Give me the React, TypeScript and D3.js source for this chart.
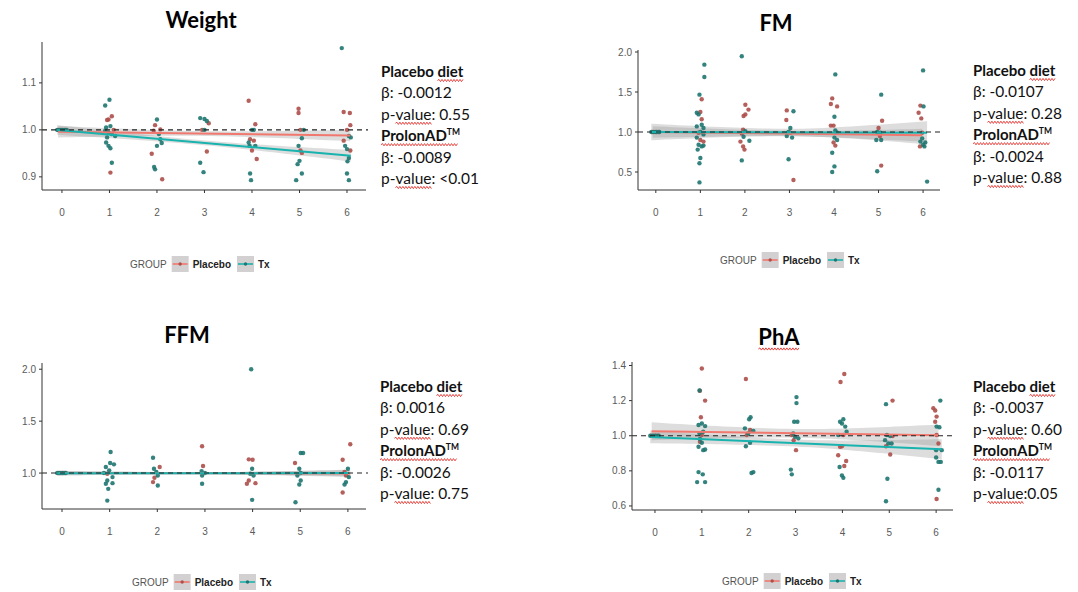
import React from 'react';
import * as d3 from 'd3';

// time points (months) and groups
const times = [0, 1, 2, 3, 4, 5, 6];
const groups = ['Placebo', 'Tx'];

// [time (jittered), value relative to baseline]
const weightPlacebo = [
  [-0.08, 1], [-0.02, 1], [0.02, 1], [0.08, 1],
  [0.98, 1.022], [1.05, 1.029], [0.95, 1.021], [1.02, 0.909], [1.09, 1.0],
  [1.96, 1.01], [1.93, 0.998], [1.89, 0.949], [2.11, 0.895], [2.07, 1.001],
  [3.09, 1.014], [2.95, 1.0], [3.05, 0.954],
  [3.93, 1.062], [4.07, 1.012], [3.96, 0.98], [4.04, 0.977], [4.0, 0.956], [4.1, 0.938],
  [4.98, 1.045], [4.98, 1.036], [5.02, 1.0], [5.02, 0.956], [5.05, 0.951],
  [5.93, 1.038], [6.06, 1.036], [6.07, 1.01], [6.0, 1.0], [5.93, 0.977], [6.07, 0.956],
];
const weightTx = [
  [-0.1, 1], [-0.05, 1], [0, 1], [0.05, 1], [0.1, 1],
  [0.91, 1.052], [1.0, 1.064], [1.02, 1.008], [0.93, 1.005], [0.91, 0.998], [0.98, 0.994],
  [1.05, 0.991], [1.12, 0.987], [0.95, 0.984], [0.93, 0.973], [0.98, 0.966], [1.02, 0.961], [1.05, 0.93],
  [2.0, 1.022], [2.04, 0.991], [2.07, 0.98], [2.1, 0.972], [2.0, 0.966], [1.94, 0.921], [1.96, 0.916],
  [2.91, 1.025], [3.0, 1.023], [3.05, 1.019], [3.0, 1.0], [2.91, 0.93], [2.98, 0.91],
  [4.0, 1.0], [4.04, 1.0], [3.95, 0.966], [4.07, 0.966], [3.96, 0.907], [3.98, 0.893], [3.93, 0.973],
  [5.09, 1.0], [5.05, 0.982], [4.98, 0.966], [5.0, 0.934], [4.96, 0.927], [5.05, 0.907], [4.93, 0.893],
  [5.89, 1.174], [6.04, 0.987], [6.08, 0.984], [5.96, 0.966], [6.0, 0.959], [6.04, 0.94], [6.01, 0.933],
  [6.0, 0.907], [6.04, 0.893],
];

const fmPlacebo = [
  [-0.07, 1], [0.0, 1], [0.06, 1],
  [1.03, 1.41], [1.0, 1.25], [1.03, 1.16], [0.96, 0.99], [1.0, 0.9], [1.07, 0.88],
  [2.01, 1.34], [2.08, 1.28], [1.97, 1.2], [2.01, 1.22], [1.96, 1.03], [1.93, 0.98], [1.9, 0.88],
  [1.96, 0.82], [1.99, 0.78],
  [2.94, 1.27], [2.93, 1.15], [3.09, 0.4], [3.02, 0.99],
  [3.96, 1.42], [4.07, 1.32], [3.93, 1.35], [3.93, 1.08], [3.99, 1.08], [3.99, 0.87], [4.03, 0.83],
  [5.08, 1.14], [5.0, 1.05], [5.06, 0.58], [5.03, 0.95],
  [5.94, 1.33], [5.9, 1.24], [5.96, 1.17], [5.98, 0.99], [5.93, 0.82],
];
const fmTx = [
  [-0.1, 1], [-0.04, 1], [0.02, 1], [0.08, 1],
  [1.09, 1.842], [1.09, 1.688], [0.98, 1.467], [0.92, 1.24], [0.96, 1.22], [0.92, 1.07], [1.03, 1.09],
  [1.07, 1.05], [1.0, 1.0], [1.07, 0.97], [0.92, 0.93], [0.96, 0.84], [1.03, 0.82], [1.07, 0.83],
  [0.94, 0.78], [1.0, 0.675], [0.98, 0.61], [0.98, 0.37],
  [1.93, 1.946], [2.01, 1.01], [1.93, 0.645], [2.1, 0.89], [1.97, 0.94],
  [3.09, 1.26], [3.02, 1.05], [2.98, 1.0], [2.94, 0.95], [3.06, 0.93], [2.98, 0.66],
  [4.03, 1.72], [4.01, 1.19], [4.03, 1.02], [4.07, 0.99], [4.01, 0.93], [3.96, 0.74], [4.01, 0.57],
  [3.96, 0.5], [4.07, 0.9],
  [5.06, 1.467], [4.97, 1.0], [5.04, 0.99], [4.95, 0.9], [5.06, 0.9], [4.97, 0.51],
  [6.0, 1.77], [6.01, 1.32], [5.98, 0.92], [6.05, 0.87], [5.94, 0.88], [6.0, 0.84], [6.03, 0.82], [6.09, 0.38],
];

const ffmPlacebo = [
  [-0.07, 1], [0.0, 1], [0.06, 1],
  [0.95, 0.994],
  [2.05, 1.058], [1.91, 0.913], [1.94, 0.955],
  [2.94, 1.258], [2.96, 1.068],
  [3.92, 1.132], [4.0, 1.129], [3.92, 0.929], [4.06, 0.903], [3.88, 0.897],
  [4.89, 1.097],
  [6.05, 1.277], [5.89, 1.129], [5.93, 1.01], [5.96, 0.977], [5.89, 0.813],
];
const ffmTx = [
  [-0.1, 1], [-0.04, 1], [0.02, 1], [0.08, 1],
  [1.02, 1.203], [1.01, 1.097], [1.09, 1.084], [0.92, 1.058], [0.99, 1.026], [0.88, 1.0], [1.06, 0.961],
  [0.95, 0.929], [0.92, 0.897], [0.97, 0.848], [0.95, 0.735], [1.06, 0.903],
  [1.91, 1.148], [1.93, 1.042], [1.98, 1.01], [2.01, 0.977], [2.01, 0.881],
  [2.93, 1.019], [3.0, 1.0], [2.94, 0.977], [2.94, 0.897],
  [3.97, 2.0], [3.99, 1.042], [3.95, 0.994], [4.02, 0.977], [3.99, 0.742],
  [5.01, 1.194], [5.06, 1.194], [4.98, 1.042], [5.01, 1.0], [4.94, 0.977], [5.01, 0.929], [4.98, 0.89], [4.9, 0.719],
  [6.0, 1.042], [6.02, 0.961], [5.96, 0.913], [5.93, 0.89],
];

const phaPlacebo = [
  [-0.07, 1], [0.0, 1], [0.06, 1],
  [1.0, 1.383], [0.96, 1.256], [1.07, 1.2], [0.98, 1.105], [1.0, 1.004], [0.96, 0.966],
  [1.94, 1.323], [2.03, 1.033], [1.96, 1.004],
  [2.92, 1.004], [3.01, 0.918], [2.96, 0.975],
  [4.04, 1.352], [3.96, 1.306], [4.02, 1.004], [3.95, 0.937], [3.99, 0.94], [3.91, 0.889], [4.08, 0.856], [4.04, 0.828],
  [5.07, 1.2], [4.93, 0.94], [5.02, 0.893], [5.07, 0.998],
  [5.94, 1.157], [5.98, 1.144], [6.01, 1.109], [5.98, 1.08], [6.01, 1.004], [6.05, 0.956], [6.01, 0.64],
];
const phaTx = [
  [-0.1, 1], [-0.04, 1], [0.02, 1], [0.08, 1],
  [0.95, 1.258], [0.93, 1.061], [1.0, 1.07], [1.07, 1.055], [0.95, 1.013], [1.03, 1.023], [0.96, 0.981],
  [0.93, 0.937], [1.03, 0.918], [1.07, 0.922], [0.93, 0.793], [1.02, 0.78], [0.9, 0.736], [1.07, 0.736], [1.0, 0.96],
  [2.04, 1.105], [2.01, 1.094], [1.92, 1.042], [2.1, 1.027], [1.99, 1.013], [2.03, 0.96], [1.94, 0.94],
  [2.06, 0.788], [2.1, 0.793],
  [3.02, 1.22], [3.02, 1.186], [2.97, 1.08], [3.04, 1.08], [2.95, 1.013], [2.99, 0.994], [3.06, 0.985],
  [2.9, 0.807], [2.92, 0.78],
  [4.02, 1.094], [3.95, 1.08], [3.99, 1.07], [4.06, 1.052], [4.09, 1.023], [3.94, 0.822], [3.99, 0.774],
  [4.02, 0.76], [3.91, 1.004],
  [4.93, 1.18], [4.95, 1.004], [5.02, 0.998], [4.91, 0.975], [4.98, 0.956], [5.05, 0.956], [4.96, 0.755], [4.93, 0.627],
  [6.09, 1.2], [6.01, 1.052], [6.07, 1.048], [6.0, 0.918], [6.12, 0.918], [6.0, 0.876], [6.05, 0.851],
  [6.1, 0.851], [6.05, 0.692],
];

// fitted lines as drawn: [intercept, slope]; band half-width at t=0, t=3, t=6
const weightFitPlacebo = [0.996, -0.0013];
const weightFitTx = [0.999, -0.0089];
const weightBandPlacebo = [0.012, 0.005, 0.012];
const weightBandTx = [0.01, 0.005, 0.012];

const fmFitPlacebo = [1.0, -0.0067];
const fmFitTx = [1.0, -0.0015];
const fmBandPlacebo = [0.07, 0.035, 0.08];
const fmBandTx = [0.1, 0.045, 0.14];

const ffmFitPlacebo = [1.0, -0.0005];
const ffmFitTx = [0.998, 0.0003];
const ffmBandPlacebo = [0.022, 0.01, 0.035];
const ffmBandTx = [0.02, 0.01, 0.03];

const phaFitPlacebo = [1.025, -0.0037];
const phaFitTx = [0.992, -0.0112];
const phaBandPlacebo = [0.05, 0.025, 0.06];
const phaBandTx = [0.035, 0.02, 0.055];

// regression text
const weightStats = ['β: -0.0012', 'p-value: 0.55', 'β: -0.0089', 'p-value: <0.01'];
const fmStats = ['β: -0.0107', 'p-value: 0.28', 'β: -0.0024', 'p-value: 0.88'];
const ffmStats = ['β: 0.0016', 'p-value: 0.69', 'β: -0.0026', 'p-value: 0.75'];
const phaStats = ['β: -0.0037', 'p-value: 0.60', 'β: -0.0117', 'p-value:0.05'];

const weightTicks = [0.9, 1.0, 1.1];
const fmTicks = [0.5, 1.0, 1.5, 2.0];
const ffmTicks = [1.0, 1.5, 2.0];
const phaTicks = [0.6, 0.8, 1.0, 1.2, 1.4];

const lineColor = { Placebo: '#f0786f', Tx: '#18b3ae' };
const dotColor = { Placebo: '#ad4f4a', Tx: '#1e7670' };

const panels = [
  {
    title: 'Weight', titleX: 201, titleY: 28, squiggleTitle: false,
    xRange: [42, 366], xDomain: [-0.42, 6.4], yRange: [190, 42], yDomain: [0.872, 1.187], ticks: weightTicks,
    data: { Placebo: weightPlacebo, Tx: weightTx },
    fit: { Placebo: weightFitPlacebo, Tx: weightFitTx },
    band: { Placebo: weightBandPlacebo, Tx: weightBandTx },
    stats: weightStats, textX: 381, textY: 77, legendX: 130, legendY: 264,
  },
  {
    title: 'FM', titleX: 776, titleY: 31, squiggleTitle: false,
    xRange: [638, 940], xDomain: [-0.4, 6.38], yRange: [190, 50], yDomain: [0.275, 2.025], ticks: fmTicks,
    data: { Placebo: fmPlacebo, Tx: fmTx },
    fit: { Placebo: fmFitPlacebo, Tx: fmFitTx },
    band: { Placebo: fmBandPlacebo, Tx: fmBandTx },
    stats: fmStats, textX: 973, textY: 76, legendX: 720, legendY: 260,
  },
  {
    title: 'FFM', titleX: 187, titleY: 343, squiggleTitle: false,
    xRange: [42, 366], xDomain: [-0.42, 6.38], yRange: [509, 363], yDomain: [0.654, 2.06], ticks: ffmTicks,
    data: { Placebo: ffmPlacebo, Tx: ffmTx },
    fit: { Placebo: ffmFitPlacebo, Tx: ffmFitTx },
    band: { Placebo: ffmBandPlacebo, Tx: ffmBandTx },
    stats: ffmStats, textX: 380, textY: 392, legendX: 132, legendY: 582,
  },
  {
    title: 'PhA', titleX: 779, titleY: 345, squiggleTitle: true,
    xRange: [632, 953], xDomain: [-0.49, 6.36], yRange: [510, 362], yDomain: [0.577, 1.42], ticks: phaTicks,
    data: { Placebo: phaPlacebo, Tx: phaTx },
    fit: { Placebo: phaFitPlacebo, Tx: phaFitTx },
    band: { Placebo: phaBandPlacebo, Tx: phaBandTx },
    stats: phaStats, textX: 973, textY: 392, legendX: 722, legendY: 581,
  },
];

const noteFont = 'Lato, "Open Sans", sans-serif';
const axisFont = '"Liberation Sans", Arial, sans-serif';

let ctx: CanvasRenderingContext2D | null = null;
function textWidth(s: string, font: string) {
  if (!ctx) ctx = document.createElement('canvas').getContext('2d');
  if (!ctx) return s.length * 7;
  ctx.font = font;
  return ctx.measureText(s).width;
}

// spell-check style zigzag
function wave(x: number, y: number, w: number) {
  let d = `M${x},${y}`;
  let up = true;
  for (let i = 1.5; i <= w; i += 1.5) {
    d += ` L${(x + i).toFixed(1)},${(y + (up ? -1.1 : 1.1)).toFixed(1)}`;
    up = !up;
  }
  return d;
}

function Panel({ p }: { p: any }) {
  const x = d3.scaleLinear().domain(p.xDomain).range(p.xRange);
  const y = d3.scaleLinear().domain(p.yDomain).range(p.yRange);
  const axisY = p.yRange[0];
  const axisX = p.xRange[0];

  const halfWidth = (b: number[], t: number) => {
    const e = t < 3 ? b[0] : b[2];
    const u = (t - 3) / 3;
    return Math.sqrt(b[1] * b[1] + (e * e - b[1] * b[1]) * u * u);
  };

  const lines = groups.map(g => {
    const ts = p.data[g].map((d: number[]) => d[0]);
    const t0 = d3.min(ts) as number, t1 = d3.max(ts) as number;
    const grid = d3.range(0, 41).map(i => t0 + (t1 - t0) * i / 40);
    const [a, b] = p.fit[g];
    const area = d3.area<number>()
      .x(t => x(t))
      .y0(t => y(a + b * t - halfWidth(p.band[g], t)))
      .y1(t => y(a + b * t + halfWidth(p.band[g], t)));
    const line = d3.line<number>().x(t => x(t)).y(t => y(a + b * t));
    return { g, area: area(grid), line: line([t0, t1]) };
  });

  const fsReg = 15.5;
  const fsBold = 15;
  const boldFont = `bold ${fsBold}px ${noteFont}`;
  const regFont = `${fsReg}px ${noteFont}`;
  const lh = 21.4;
  const textLines = [
    { s: 'Placebo diet', bold: true },
    { s: p.stats[0], bold: false },
    { s: p.stats[1], bold: false },
    { s: 'ProlonAD', bold: true, tm: true },
    { s: p.stats[2], bold: false },
    { s: p.stats[3], bold: false },
  ];

  const titleW = textWidth(p.title, `bold 22px ${noteFont}`);

  // legend layout
  const lgFont = `10px ${axisFont}`;
  const lgBold = `bold 10px ${axisFont}`;
  const groupW = textWidth('GROUP', lgFont);
  const key1 = p.legendX + groupW + 5;
  const lab1 = key1 + 17 + 4;
  const key2 = lab1 + textWidth('Placebo', lgBold) + 6;
  const lab2 = key2 + 17 + 4;

  return (
    <g>
      <text x={p.titleX} y={p.titleY} textAnchor="middle" fontFamily={noteFont} fontWeight="bold" fontSize={22} fill="#000">
        {p.title}
      </text>
      {p.squiggleTitle && (
        <path d={wave(p.titleX - titleW / 2, p.titleY + 4, titleW)} stroke="#e0302a" strokeWidth={0.9} fill="none" />
      )}

      {lines.map(l => (
        <path key={'a' + l.g} d={l.area || ''} fill="#8f8f8f" fillOpacity={0.3} />
      ))}

      {groups.map(g => (
        <g key={'p' + g}>
          {p.data[g].map((d: number[], i: number) => (
            <circle key={i} cx={x(d[0])} cy={y(d[1])} r={2.2} fill={dotColor[g as 'Placebo' | 'Tx']} fillOpacity={0.9} />
          ))}
        </g>
      ))}

      {lines.map(l => (
        <path key={'l' + l.g} d={l.line || ''} fill="none" stroke={lineColor[l.g as 'Placebo' | 'Tx']} strokeWidth={2} />
      ))}

      <line x1={axisX} x2={p.xRange[1] + 2} y1={y(1)} y2={y(1)} stroke="#222" strokeWidth={1.1} strokeDasharray="5,4" />

      {/* axes */}
      <line x1={axisX} x2={axisX} y1={p.yRange[1]} y2={axisY} stroke="#333" strokeWidth={1} />
      <line x1={axisX} x2={p.xRange[1]} y1={axisY} y2={axisY} stroke="#333" strokeWidth={1} />
      {p.ticks.map((t: number) => (
        <g key={'y' + t}>
          <line x1={axisX - 3} x2={axisX} y1={y(t)} y2={y(t)} stroke="#333" />
          <text x={axisX - 6} y={y(t) + 3.5} textAnchor="end" fontFamily={axisFont} fontSize={10} fill="#5a5a5a">
            {d3.format('.1f')(t)}
          </text>
        </g>
      ))}
      {times.map(t => (
        <g key={'x' + t}>
          <line x1={x(t)} x2={x(t)} y1={axisY} y2={axisY + 3} stroke="#333" />
          <text x={x(t)} y={axisY + 26} textAnchor="middle" fontFamily={axisFont} fontSize={10} fill="#5a5a5a">
            {t}
          </text>
        </g>
      ))}

      {/* legend */}
      <text x={p.legendX} y={p.legendY + 3.5} fontFamily={axisFont} fontSize={10} fill="#555">GROUP</text>
      {[['Placebo', key1, lab1], ['Tx', key2, lab2]].map(([g, kx, lx]) => (
        <g key={'k' + g}>
          <rect x={kx as number} y={p.legendY - 8} width={17} height={16} fill="#d3d0d2" />
          <line x1={(kx as number) + 1} x2={(kx as number) + 16} y1={p.legendY} y2={p.legendY}
            stroke={lineColor[g as 'Placebo' | 'Tx']} strokeWidth={1.6} />
          <circle cx={(kx as number) + 8.5} cy={p.legendY} r={1.7} fill={dotColor[g as 'Placebo' | 'Tx']} />
          <text x={lx as number} y={p.legendY + 3.5} fontFamily={axisFont} fontSize={10} fontWeight="bold" fill="#222">{g}</text>
        </g>
      ))}

      {/* regression notes */}
      {textLines.map((l, i) => {
        const by = p.textY + i * lh;
        const font = l.bold ? boldFont : regFont;
        let squig: [number, number] | null = null;
        if (l.s === 'Placebo diet') {
          squig = [textWidth('Placebo ', font), textWidth('diet', font)];
        } else if (l.s.startsWith('p-value')) {
          squig = [textWidth('p-', font), textWidth('value', font)];
        } else if (l.tm) {
          squig = [0, textWidth('ProlonAD', font) + 12];
        }
        return (
          <g key={'t' + i}>
            <text x={p.textX} y={by} fontFamily={noteFont} fontSize={l.bold ? fsBold : fsReg}
              fontWeight={l.bold ? 'bold' : 'normal'} fill="#111">
              {l.s}
              {l.tm && <tspan fontSize={8.5} dy={-6}>TM</tspan>}
            </text>
            {squig && (
              <path d={wave(p.textX + squig[0], by + 3.5, squig[1])} stroke="#e0302a" strokeWidth={0.9} fill="none" />
            )}
          </g>
        );
      })}
    </g>
  );
}

export default function App() {
  return (
    <div style={{ position: 'absolute', left: 0, top: 0, background: '#fff' }}>
      <svg width={1078} height={592} style={{ display: 'block' }}>
        <rect width={1078} height={592} fill="#fff" />
        {panels.map(p => <Panel key={p.title} p={p} />)}
      </svg>
    </div>
  );
}
